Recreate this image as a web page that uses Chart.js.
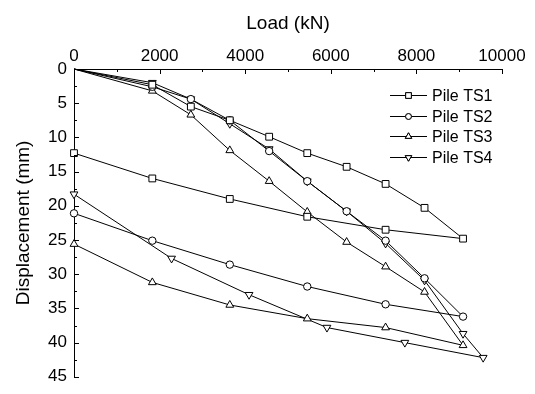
<!DOCTYPE html>
<html>
<head>
<meta charset="utf-8">
<script src="https://cdn.jsdelivr.net/npm/chart.js@4/dist/chart.umd.min.js"></script>
<style>
  html, body { margin: 0; padding: 0; background: #fff; }
  #wrap { width: 535px; height: 394px; }
</style>
</head>
<body>
<div id="wrap"><canvas id="chart" width="535" height="394"></canvas></div>
<script>
// Load (kN) / displacement (mm), loading then unloading
const seriesNames = ['Pile TS1', 'Pile TS2', 'Pile TS3', 'Pile TS4'];

const loadTS1 = [0, 1830, 2730, 3640, 4560, 5450, 6370, 7280, 8190, 9090, 7280, 5450, 3640, 1830, 0];
const dispTS1 = [0, 2.3, 5.5, 7.5, 9.9, 12.3, 14.3, 16.8, 20.3, 24.8, 23.5, 21.6, 19.0, 16.0, 12.3];

const loadTS2 = [0, 1830, 2730, 3640, 4560, 5450, 6370, 7280, 8190, 9090, 7280, 5450, 3640, 1830, 0];
const dispTS2 = [0, 2.6, 4.4, 7.5, 12.0, 16.4, 20.8, 25.1, 30.6, 36.2, 34.4, 31.8, 28.6, 25.1, 21.1];

const loadTS3 = [0, 1830, 2730, 3640, 4560, 5450, 6370, 7280, 8190, 9090, 7280, 5450, 3640, 1830, 0];
const dispTS3 = [0, 3.2, 6.7, 11.9, 16.4, 20.9, 25.3, 28.9, 32.6, 40.4, 37.8, 36.5, 34.5, 31.2, 25.6];

const loadTS4 = [0, 1830, 2730, 3640, 4560, 5450, 6370, 7280, 8190, 9090, 9560, 7730, 5910, 4090, 2280, 0];
const dispTS4 = [0, 2.0, 4.4, 8.0, 11.7, 16.4, 20.8, 25.5, 30.9, 38.7, 42.2, 40.0, 37.8, 33.0, 27.7, 18.3];

const xTicks = [0, 2000, 4000, 6000, 8000, 10000];
const yTicks = [0, 5, 10, 15, 20, 25, 30, 35, 40, 45];

const markers = [
  { style: 'rect', radius: 4.8, rotation: 0 },
  { style: 'circle', radius: 3.7, rotation: 0 },
  { style: 'triangle', radius: 4.5, rotation: 0 },
  { style: 'triangle', radius: 4.5, rotation: 180 }
];

function toPoints(xs, ys) {
  return xs.map((x, i) => ({ x: x, y: ys[i] }));
}

const allLoads = [loadTS1, loadTS2, loadTS3, loadTS4];
const allDisps = [dispTS1, dispTS2, dispTS3, dispTS4];

const datasets = seriesNames.map((name, i) => ({
  label: name,
  data: toPoints(allLoads[i], allDisps[i]),
  showLine: true,
  borderColor: '#000',
  borderWidth: 1,
  backgroundColor: '#fff',
  pointBackgroundColor: '#fff',
  pointBorderColor: '#000',
  pointBorderWidth: 1,
  pointStyle: markers[i].style,
  pointRotation: markers[i].rotation,
  pointRadius: ctx => ctx.dataIndex === 0 ? 0 : markers[i].radius,
  pointHoverRadius: markers[i].radius,
  tension: 0,
  clip: false
}));

Chart.defaults.font.family = '"Liberation Sans", Arial, sans-serif';
Chart.defaults.font.size = 17;
Chart.defaults.color = '#000';

// small ticks pointing inside the plot
const innerTicks = {
  id: 'innerTicks',
  afterDraw(chart) {
    const ctx = chart.ctx;
    const xs = chart.scales.x, ys = chart.scales.y;
    const area = chart.chartArea;
    ctx.save();
    ctx.strokeStyle = '#000';
    ctx.lineWidth = 1;
    ctx.beginPath();
    for (let v = 0; v <= 10000; v += 1000) {
      const px = Math.round(xs.getPixelForValue(v)) + 0.5;
      const len = v % 2000 === 0 ? 5 : 3;
      ctx.moveTo(px, area.top);
      ctx.lineTo(px, area.top + len);
    }
    for (let v = 0; v <= 45; v += 2.5) {
      const py = Math.round(ys.getPixelForValue(v)) + 0.5;
      const len = v % 5 === 0 ? 5 : 3;
      ctx.moveTo(area.left, py);
      ctx.lineTo(area.left + len, py);
    }
    ctx.stroke();
    ctx.restore();
  }
};

// legend with line + marker samples
const lineLegend = {
  id: 'lineLegend',
  afterDraw(chart) {
    const ctx = chart.ctx;
    const x0 = 390, x1 = 427, top = 95, gap = 20.6;
    ctx.save();
    ctx.font = '16px "Liberation Sans", Arial, sans-serif';
    ctx.textBaseline = 'middle';
    seriesNames.forEach((name, i) => {
      const y = Math.round(top + i * gap) + 0.5;
      ctx.strokeStyle = '#000';
      ctx.lineWidth = 1;
      ctx.beginPath();
      ctx.moveTo(x0, y);
      ctx.lineTo(x1, y);
      ctx.stroke();
      ctx.fillStyle = '#fff';
      Chart.helpers.drawPoint(ctx, {
        pointStyle: markers[i].style,
        rotation: markers[i].rotation,
        radius: markers[i].radius - 0.8,
        borderWidth: 1
      }, (x0 + x1) / 2, y);
      ctx.fill();
      ctx.stroke();
      ctx.fillStyle = '#000';
      ctx.fillText(name, x1 + 5, y + 1);
    });
    ctx.restore();
  }
};

new Chart(document.getElementById('chart').getContext('2d'), {
  type: 'scatter',
  data: { datasets },
  options: {
    responsive: false,
    animation: false,
    layout: { padding: { left: 0, top: 0, right: 33, bottom: 10 } },
    plugins: {
      legend: { display: false },
      tooltip: { enabled: false }
    },
    scales: {
      x: {
        type: 'linear',
        position: 'top',
        min: 0,
        max: 10000,
        afterBuildTicks: s => { s.ticks = xTicks.map(v => ({ value: v })); },
        afterFit: s => { s.height = 69; },
        grid: { display: false, drawTicks: false },
        border: { display: true, color: '#000', width: 1 },
        ticks: { padding: 2, maxRotation: 0, callback: v => String(v) },
        title: { display: true, text: 'Load (kN)', font: { size: 19 }, padding: { top: 12.5, bottom: 0 } }
      },
      y: {
        type: 'linear',
        reverse: true,
        min: 0,
        max: 45,
        afterBuildTicks: s => { s.ticks = yTicks.map(v => ({ value: v })); },
        afterFit: s => { s.width = 74; },
        grid: { display: false, drawTicks: false },
        border: { display: true, color: '#000', width: 1 },
        ticks: { padding: 7 },
        title: { display: true, text: 'Displacement (mm)', font: { size: 19 }, padding: { top: 12.5, bottom: 0 } }
      }
    }
  },
  plugins: [innerTicks, lineLegend]
});
</script>
</body>
</html>
